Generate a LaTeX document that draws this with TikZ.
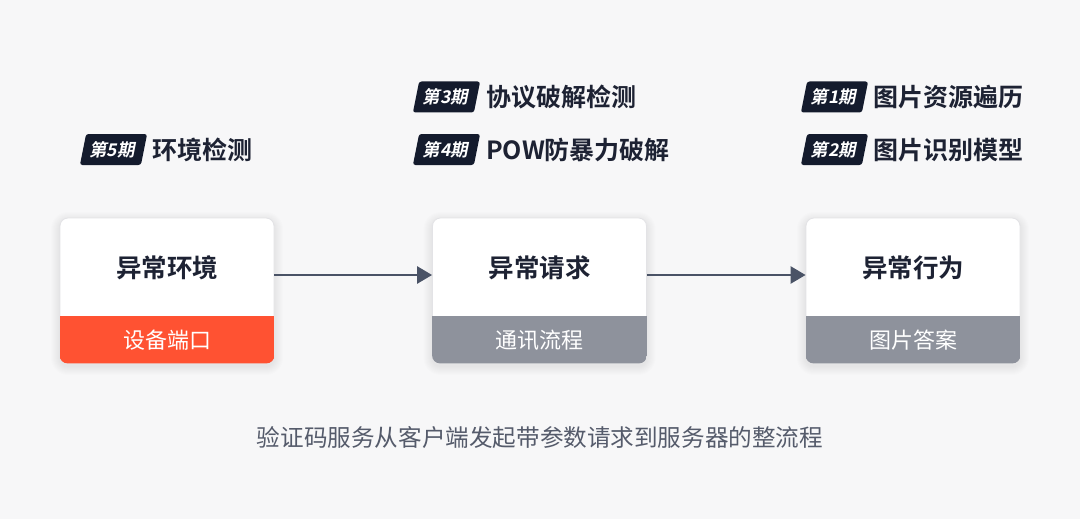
\documentclass[tikz,border=0pt]{standalone}
\usepackage{fontspec}
\setmainfont{Noto Sans CJK SC}
\newfontfamily\cjkb{Noto Sans CJK SC Bold}
\usetikzlibrary{arrows.meta}
\definecolor{bgc}{HTML}{F7F7F8}
\definecolor{ink}{HTML}{1D2233}
\definecolor{badgec}{HTML}{141B2D}
\definecolor{arrc}{HTML}{4A5366}
\definecolor{grayband}{HTML}{8E929C}
\definecolor{orangeband}{HTML}{FF5232}
\definecolor{capc}{HTML}{555B6B}
\definecolor{cardline}{HTML}{E3E3E6}
\newcommand\mysoftshadow[2]{%
  \foreach \r in {1,...,9}{%
    \fill[black, opacity=0.008, rounded corners=8pt+\r pt]
      (#1-\r, 218+3-\r) rectangle (#2+\r, 363+3+\r);
  }}
\tikzset{
  card/.style={draw=cardline, line width=0.8pt, fill=white, rounded corners=8pt,
    minimum width=214pt, minimum height=145pt, inner sep=0pt},
  cardtitle/.style={font=\cjkb\fontsize{25.5}{30}\selectfont, text=ink},
  bandlabel/.style={font=\fontsize{22}{26}\selectfont, text=white},
  badge/.style={fill=badgec, rounded corners=2.5pt, minimum width=61pt, minimum height=31pt,
    inner sep=0pt, text=white, font=\cjkb\fontsize{17.5}{20}\selectfont, transform shape},
  itemtext/.style={anchor=west, font=\cjkb\fontsize{25}{30}\selectfont, text=ink, inner sep=0pt},
  arr/.style={draw=arrc, line width=2.6pt, -{Triangle[length=15pt,width=17pt]}},
}
\begin{document}
\begin{tikzpicture}[x=1pt,y=-1pt]
\fill[bgc] (0,0) rectangle (1080,519);
\useasboundingbox (0,0) rectangle (1080,519);

% soft shadows
\mysoftshadow{60}{274}
\mysoftshadow{432.5}{646.5}
\mysoftshadow{806}{1020}

% cards
\node[card] (b1) at (167,290.5) {};
\node[card] (b2) at (539.5,290.5) {};
\node[card] (b3) at (913,290.5) {};

\begin{scope}
\clip[rounded corners=8pt] (b1.north west) rectangle (b1.south east);
\fill[orangeband] (60,316) rectangle (274,364);
\end{scope}
\begin{scope}
\clip[rounded corners=8pt] (b2.north west) rectangle (b2.south east);
\fill[grayband] (432,316) rectangle (647,364);
\end{scope}
\begin{scope}
\clip[rounded corners=8pt] (b3.north west) rectangle (b3.south east);
\fill[grayband] (806,316) rectangle (1020,364);
\end{scope}

\node[cardtitle] (t1) at (167,268) {异常环境};
\node[cardtitle] (t2) at (539.5,268) {异常请求};
\node[cardtitle] (t3) at (913,268) {异常行为};

\node[bandlabel] (l1) at (167,340) {设备端口};
\node[bandlabel] (l2) at (539.5,340) {通讯流程};
\node[bandlabel] (l3) at (913,340) {图片答案};

% arrows
\draw[arr] ([yshift=15.5pt]b1.east) -- ([yshift=15.5pt]b2.west);
\draw[arr] ([yshift=15.5pt]b2.east) -- ([yshift=15.5pt]b3.west);

% badges
\begin{scope}[shift={(113.5,149.5)}, xslant=0.2]
\node[badge] (p5) at (0,0) {第5期};
\end{scope}
\begin{scope}[shift={(446.5,97)}, xslant=0.2]
\node[badge] (p3) at (0,0) {第3期};
\end{scope}
\begin{scope}[shift={(446.5,149.5)}, xslant=0.2]
\node[badge] (p4) at (0,0) {第4期};
\end{scope}
\begin{scope}[shift={(834.5,97)}, xslant=0.2]
\node[badge] (p1) at (0,0) {第1期};
\end{scope}
\begin{scope}[shift={(834.5,149.5)}, xslant=0.2]
\node[badge] (p2) at (0,0) {第2期};
\end{scope}

\node[itemtext] (i5) at (152,150) {环境检测};
\node[itemtext] (i3) at (486,97) {协议破解检测};
\node[itemtext] (i4) at (486,150) {POW防暴力破解};
\node[itemtext] (i1) at (873,97) {图片资源遍历};
\node[itemtext] (i2) at (873,150) {图片识别模型};

% caption
\node[font=\fontsize{23.6}{28}\selectfont, text=capc] (cap) at (540,438) {验证码服务从客户端发起带参数请求到服务器的整流程};
\end{tikzpicture}
\end{document}
